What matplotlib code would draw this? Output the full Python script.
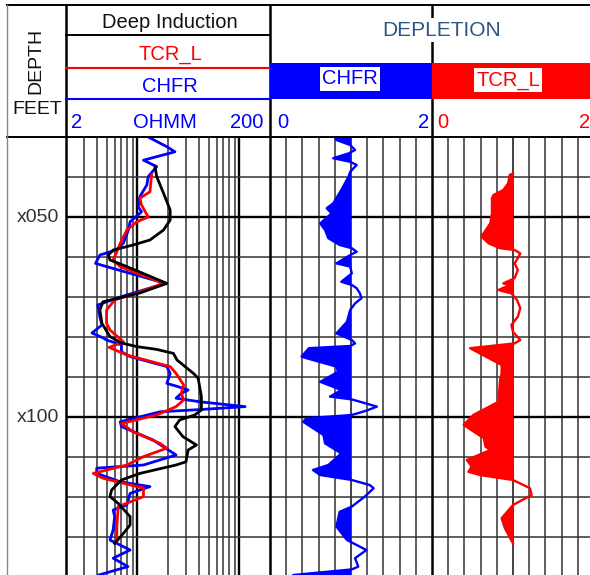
import matplotlib
matplotlib.use("Agg")
import matplotlib.pyplot as plt
import numpy as np

plt.rcParams["font.family"] = ["Liberation Sans", "DejaVu Sans"]

chfr_res_depth = [1030, 1032.4, 1033.7, 1035.8, 1037.4, 1039.9, 1042, 1044.9, 1047.4, 1048.7,
                  1051.2, 1053.2, 1056.5, 1058.2, 1059.5, 1061.6, 1062.4, 1066.2, 1067, 1070,
                  1072, 1075, 1077, 1079, 1080.2, 1080.75, 1082, 1083.7, 1084.9, 1087.4,
                  1089.1, 1091.6, 1092.4, 1093.25, 1094.1, 1095.3, 1096.2, 1097.4, 1098.1, 1098.7,
                  1101.2, 1102.4, 1105.75, 1109.5, 1112, 1112.8, 1114.1, 1116.2, 1117.4, 1119.1,
                  1122, 1123.25, 1124.9, 1128.25, 1130.75, 1133.25, 1135.3, 1137.4, 1139.5]
chfr_res = [12.8, 19.4, 23.4, 11.5, 15.5, 12.8, 12.4, 10.6, 10.2, 11,
            8.5, 8.2, 7.3, 6.3, 4.3, 3.9, 5, 16.7, 16.7, 6.8,
            4.1, 4.3, 4.5, 3.6, 4.6, 5, 7, 7, 8.5, 19.5,
            21, 19.5, 25, 31.5, 27, 24, 41, 114, 44, 16.7,
            6.8, 7, 14.3, 24, 11.5, 4, 4, 6.8, 13.3, 8.5,
            7.9, 5.8, 6, 5.8, 5.4, 8.5, 5.8, 8.1, 4.2]

tcr_res_depth = [1039.5, 1043.7, 1045.3, 1047, 1050, 1051.2, 1053.25, 1056.6, 1058.7, 1060.75,
                 1062.4, 1066.6, 1069, 1070.75, 1073.25, 1076.6, 1078.25, 1081.2, 1082.6, 1084.5,
                 1087.4, 1089.1, 1092, 1094.1, 1095.75, 1097.4, 1099.5, 1101.6, 1103.7, 1106.6,
                 1107.8, 1109.9, 1112, 1114.1, 1115.3, 1117.8, 1119.9, 1122.4, 1127.4, 1131.2]
tcr_res = [13.8, 13.3, 10.6, 11, 12.8, 9.9, 7.9, 6.8, 6.3, 5.8,
           6.8, 18.1, 9.9, 6, 5, 5, 5.4, 7.3, 5.3, 7.9,
           21, 24, 28.5, 27, 28.5, 24, 15.5, 7, 9.1, 16.7,
           19.5, 11.5, 7.9, 3.7, 4.6, 11.5, 11.5, 6.5, 6.3, 6.3]

deep_depth = [1037.4, 1039.9, 1044.1, 1048.25, 1050.75, 1053.25, 1055.75, 1057, 1058.25, 1059.5,
              1060.75, 1062.4, 1066.6, 1069, 1071.2, 1073.25, 1076.6, 1079.9, 1081.5, 1082.4,
              1083.1, 1084.1, 1085.75, 1089.1, 1090.3, 1094.9, 1098.25, 1099.5, 1100.75, 1102.4,
              1104.9, 1107, 1108.25, 1111.2, 1112, 1114.1, 1115.75, 1118.25, 1119.9, 1121.6,
              1124.9, 1127, 1129.1, 1131.6]
deep_res = [14.9, 15.5, 18.1, 21, 21, 18.1, 13.3, 9.1, 5.8, 5.2,
            5.4, 7.9, 19.5, 10.6, 4.6, 4.3, 4.5, 5.4, 7, 9.9,
            15.5, 22.6, 24.5, 35.5, 39.5, 42.5, 42.5, 36.5, 26, 23.4,
            28, 38, 31.5, 30, 24, 10.6, 7, 5.6, 5.4, 6.5,
            8.5, 8.5, 7.3, 6]

chfr_dep_depth = [1030, 1030.75, 1032, 1033.25, 1034.1, 1035.3, 1036.2, 1037, 1038.7, 1039.9,
                  1043.25, 1046.6, 1047.8, 1049.1, 1051.6, 1053.25, 1055.3, 1057, 1057.8, 1058.7,
                  1059.5, 1061.6, 1062.4, 1064.1, 1066.2, 1067, 1067.8, 1069.1, 1070.3, 1071.6,
                  1073.25, 1076.2, 1079.1, 1080.75, 1081.6, 1082.25, 1082.8, 1084.9, 1085.3, 1087.4,
                  1088.7, 1091.2, 1093.25, 1094.9, 1095.6, 1097.4, 1098.4, 1099.5, 1100.3, 1101.2,
                  1104.5, 1106.6, 1109.1, 1112, 1113.25, 1114.5, 1115.75, 1117, 1117.8, 1119.9,
                  1122.4, 1123.7, 1127.4, 1130.75, 1133.25, 1135.3, 1137.4, 1138.1, 1139.5]
chfr_dep = [0.80, 0.82, 0.99, 1.05, 0.97, 0.78, 0.99, 1.07, 0.99, 0.97,
            0.88, 0.78, 0.70, 0.76, 0.62, 0.68, 0.72, 0.86, 1.01, 1.07,
            0.99, 0.82, 0.99, 1.01, 0.88, 1.01, 1.07, 1.11, 1.13, 1.05,
            0.99, 0.95, 0.82, 1.01, 1.05, 0.99, 0.48, 0.39, 0.45, 0.82,
            0.84, 0.62, 0.88, 0.74, 1.01, 1.32, 1.19, 1.01, 0.45, 0.41,
            0.66, 0.68, 0.88, 0.72, 0.53, 0.62, 1.01, 1.23, 1.28, 1.17,
            1.01, 0.86, 0.82, 0.95, 1.19, 1.05, 1.09, 1.01, 0.29]

tcr_dep_depth = [1039.1, 1039.5, 1041.6, 1043.25, 1044.5, 1045.3, 1049.1, 1051.6, 1054.9, 1056.6,
                 1057.8, 1058.25, 1059.1, 1060.3, 1061.6, 1063.25, 1065.3, 1066.6, 1067, 1068.25,
                 1069.1, 1070.75, 1072.8, 1074.9, 1077, 1078.7, 1080.75, 1081.6, 1082.8, 1087,
                 1089.1, 1090.75, 1096.2, 1099.5, 1102, 1105.3, 1107.4, 1108.25, 1110.75, 1112.4,
                 1113.7, 1114.5, 1115.75, 1117.8, 1119.5, 1122, 1125.3, 1127.8, 1131.6]
tcr_dep = [1.0, 0.96, 0.94, 0.88, 0.76, 0.74, 0.74, 0.72, 0.61, 0.70,
           0.84, 1.02, 1.09, 1.06, 1.02, 1.06, 1.02, 0.88, 0.96, 0.82,
           0.98, 1.05, 1.09, 1.06, 0.98, 1.0, 1.09, 1.02, 0.47, 0.86,
           0.86, 0.84, 0.82, 0.51, 0.39, 0.64, 0.66, 0.72, 0.43, 0.49,
           0.45, 0.59, 1.0, 1.21, 1.23, 1.0, 0.86, 0.90, 1.0]

depth_labels = {1050: "x050", 1100: "x100"}
top_depth, bot_depth = 1030, 1139.5

W, H = 590, 575
fig = plt.figure(figsize=(W / 100, H / 100), dpi=100)


def px_axes(x0, x1, y0=137, y1=575):
    return fig.add_axes([x0 / W, 1 - y1 / H, (x1 - x0) / W, (y1 - y0) / H])


grid_minor = dict(color="#333333", linewidth=1.1)
grid_major = dict(color="black", linewidth=1.7)


def style_track(ax):
    ax.set_ylim(bot_depth, top_depth)
    ax.set_yticks([1050, 1100])
    ax.set_yticks([d for d in range(1040, 1140, 10) if d not in (1050, 1100)], minor=True)
    ax.grid(True, which="minor", axis="y", **grid_minor)
    ax.grid(True, which="major", axis="y", **grid_major)
    ax.tick_params(which="both", length=0, labelleft=False, labelbottom=False)
    for s in ax.spines.values():
        s.set_visible(False)
    ax.set_axisbelow(True)


# depth track
axd = px_axes(7, 66)
axd.set_ylim(bot_depth, top_depth)
axd.set_xlim(0, 1)
axd.axis("off")
for d, lab in depth_labels.items():
    axd.text(0.53, d, lab, ha="center", va="center", fontsize=14, color="#333333")

# track 1: resistivity, log 2-200
ax1 = px_axes(66, 270)
ax1.set_xscale("log")
ax1.set_xlim(2, 200)
ax1.set_xticks([10, 100])
ax1.set_xticks([3, 4, 5, 6, 7, 8, 9, 20, 30, 40, 50, 60, 70, 80, 90], minor=True)
ax1.grid(True, which="minor", axis="x", **grid_minor)
ax1.grid(True, which="major", axis="x", **grid_major)
style_track(ax1)
ax1.plot(chfr_res, chfr_res_depth, color="#0000ff", lw=2)
ax1.plot(tcr_res, tcr_res_depth, color="#ff0000", lw=2)
ax1.plot(deep_res, deep_depth, color="black", lw=2)

# tracks 2 and 3: depletion, linear 0-2
for x0, x1, val, dep, col in [(270, 432, chfr_dep, chfr_dep_depth, "#0000ff"),
                              (432, 594, tcr_dep, tcr_dep_depth, "#ff0000")]:
    ax = px_axes(x0, x1)
    ax.set_xlim(0, 2)
    ax.set_xticks([1.0])
    ax.set_xticks([0.2, 0.4, 0.6, 0.8, 1.2, 1.4, 1.6, 1.8], minor=True)
    ax.grid(True, which="minor", axis="x", **grid_minor)
    ax.grid(True, which="major", axis="x", color="#333333", linewidth=1.3)
    style_track(ax)
    v = np.array(val)
    dd = np.array(dep)
    ax.fill_betweenx(dd, v, 1.0, where=v < 1.0, interpolate=True, color=col, lw=0)
    ax.plot(v, dd, color=col, lw=1.7)

# header and borders, drawn in pixel space
hx = fig.add_axes([0, 0, 1, 1], zorder=10)
hx.set_xlim(0, W)
hx.set_ylim(H, 0)
hx.axis("off")
hx.patch.set_alpha(0)

blk = dict(color="black", lw=1.4)
hx.plot([7, 594], [5, 5], **blk)
hx.plot([7, 594], [137, 137], **blk)
hx.plot([7, 7], [5, 575], color="#888888", lw=1.0)
hx.plot([66, 66], [5, 575], color="black", lw=1.8)
hx.plot([270, 270], [5, 575], color="black", lw=1.8)
hx.plot([432, 432], [5, 575], color="black", lw=1.8, zorder=1)

# depth header
hx.text(36, 61, "DEPTH", rotation=90, ha="center", va="center", fontsize=14, color="#111111")
hx.text(37, 110, "FEET", ha="center", va="center", fontsize=14, color="#111111")

# track 1 header
hx.plot([66, 270], [35, 35], **blk)
hx.text(170, 22, "Deep Induction", ha="center", va="center", fontsize=14.5, color="#111111")
hx.text(170, 54, "TCR_L", ha="center", va="center", fontsize=14.5, color="#ff0000")
hx.plot([66, 270], [68, 68], color="#ff0000", lw=1.5)
hx.text(170, 86, "CHFR", ha="center", va="center", fontsize=14.5, color="#0000ff")
hx.plot([66, 270], [99, 99], color="#0000ff", lw=1.5)
hx.text(77, 123, "2", ha="center", va="center", fontsize=14.5, color="#0000ff")
hx.text(165, 123, "OHMM", ha="center", va="center", fontsize=14.5, color="#0000ff")
hx.text(247, 123, "200", ha="center", va="center", fontsize=14.5, color="#0000ff")

# depletion header
hx.text(442, 30, "DEPLETION", ha="center", va="center", fontsize=15, color="#2f5583",
        bbox=dict(facecolor="white", edgecolor="none", pad=2), zorder=3)
hx.fill_between([270, 432], 63, 99, color="#0000ff", lw=0, zorder=2)
hx.fill_between([432, 594], 63, 99, color="#ff0000", lw=0, zorder=2)
hx.text(350, 79, "CHFR", ha="center", va="center", fontsize=14.5, color="#0000ff",
        bbox=dict(facecolor="white", edgecolor="none", pad=1.5), zorder=3)
hx.text(508, 80, "TCR_L", ha="center", va="center", fontsize=14.5, color="#ff0000",
        bbox=dict(facecolor="white", edgecolor="none", pad=1.5), zorder=3)
hx.text(283, 123, "0", ha="center", va="center", fontsize=14.5, color="#0000ff")
hx.text(424, 123, "2", ha="center", va="center", fontsize=14.5, color="#0000ff")
hx.text(443, 123, "0", ha="center", va="center", fontsize=14.5, color="#ff0000")
hx.text(585, 123, "2", ha="center", va="center", fontsize=14.5, color="#ff0000")

fig.savefig("out.png", dpi=100)
